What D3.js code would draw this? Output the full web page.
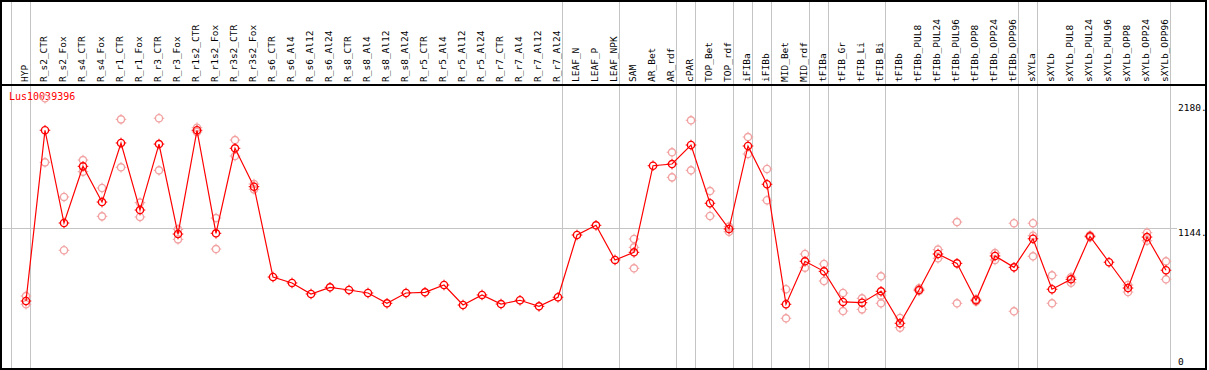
<!DOCTYPE html>
<html lang="en">
<head>
    <meta charset="UTF-8">
    <title>Lus10039396 expression</title>
    <script src="https://d3js.org/d3.v7.min.js"></script>
    <style>
        body { margin: 0; background: #fff; }
        svg { display: block; }
        text { font-family: "DejaVu Sans Mono", monospace; }
        .sep { stroke: #c4c4c4; stroke-width: 1; shape-rendering: crispEdges; }
        .frame { fill: none; stroke: #000; stroke-width: 2; shape-rendering: crispEdges; }
        .curve { fill: none; stroke: #ff0000; stroke-width: 1.2; }
    </style>
</head>
<body>
    <div id="chart"></div>

    <script>
        const samples = ["HYP","R_s2_CTR","R_s2_Fox","R_s4_CTR","R_s4_Fox","R_r1_CTR","R_r1_Fox","R_r3_CTR","R_r3_Fox",
            "R_r1s2_CTR","R_r1s2_Fox","R_r3s2_CTR","R_r3s2_Fox","R_s6_CTR","R_s6_Al4","R_s6_Al12","R_s6_Al24",
            "R_s8_CTR","R_s8_Al4","R_s8_Al12","R_s8_Al24","R_r5_CTR","R_r5_Al4","R_r5_Al12","R_r5_Al24",
            "R_r7_CTR","R_r7_Al4","R_r7_Al12","R_r7_Al24","LEAF_N","LEAF_P","LEAF_NPK","SAM","AR_Bet","AR_rdf",
            "cPAR","TOP_Bet","TOP_rdf","iFIBa","iFIBb","MID_Bet","MID_rdf","tFIBa","tFIB_Gr","tFIB_Li","tFIB_Bi",
            "tFIBb","tFIBb_PUL8","tFIBb_PUL24","tFIBb_PUL96","tFIBb_OPP8","tFIBb_OPP24","tFIBb_OPP96",
            "sXYLa","sXYLb","sXYLb_PUL8","sXYLb_PUL24","sXYLb_PUL96","sXYLb_OPP8","sXYLb_OPP24","sXYLb_OPP96"];

        // mean expression per sample
        const meanVals = [545,1955,1189,1657,1362,1850,1296,1841,1098,1955,1104,1806,1489,
            743,694,603,658,636,611,526,611,617,677,512,595,520,551,501,576,
            1090,1170,884,947,1662,1676,1833,1352,1140,1825,1509,518,873,790,537,531,625,
            361,636,933,856,551,917,823,1059,642,724,1079,865,652,1073,799];

        // individual replicates (null = none shown)
        const rep1 = [586,2219,1404,1709,1478,2045,1357,2054,1137,1976,1230,1874,1511,
            null,null,null,null,null,null,null,null,null,null,null,null,null,null,null,null,
            null,null,null,1057,null,1773,2037,1453,1159,1899,1635,642,933,851,611,567,749,
            405,650,969,1197,560,941,1187,1187,757,741,1088,null,677,1109,873];
        const rep2 = [518,1690,964,1613,1244,1649,1239,1624,1054,1941,974,1742,1467,
            null,null,null,null,null,null,null,null,null,null,null,null,null,null,null,null,
            null,null,null,988,null,1566,1624,1247,1117,1759,1377,402,820,710,462,476,589,
            325,628,898,526,542,884,460,1084,526,696,1071,null,619,1043,724];
        const rep3 = [null,null,null,null,null,null,null,null,null,null,null,null,null,
            null,null,null,null,null,null,null,null,null,null,null,null,null,null,null,null,
            null,null,null,815,null,null,null,null,null,null,null,null,null,null,null,null,526,
            null,null,null,null,null,null,null,914,null,null,null,null,null,null,null];

        const tickVals = [0, 1144, 2180];
        const tickLabels = ["0", "1144.", "2180."];
        const gridVals = [1144];
        const breakAfter = ["HYP","R_r7_Al24","LEAF_NPK","AR_rdf","cPAR","TOP_rdf","iFIBa","iFIBb",
            "MID_rdf","tFIBa","tFIB_Bi","tFIBb_OPP96","sXYLa","sXYLb_OPP96"];
        const geneName = "Lus10039396";

        const width = 1209;
        const height = 370;

        const x = d3.scaleBand().domain(samples).range([11, 1170]);
        const px = d => x(d) + 15;
        const y = d3.scaleLinear().domain([0, 2180]).range([367, 103]);

        const svg = d3.select("#chart")
            .append("svg")
            .attr("width", width)
            .attr("height", height);

        // column separators
        const seps = [x.range()[0]].concat(breakAfter.map(d => x(d) + x.bandwidth()));
        svg.selectAll(".sep")
            .data(seps)
            .enter()
            .append("line")
            .attr("class", "sep")
            .attr("x1", d => Math.round(d) + 0.5)
            .attr("x2", d => Math.round(d) + 0.5)
            .attr("y1", 0)
            .attr("y2", height);

        // horizontal reference line
        svg.selectAll(".grid")
            .data(gridVals)
            .enter()
            .append("line")
            .attr("class", "sep")
            .attr("x1", 2)
            .attr("x2", 1177)
            .attr("y1", d => Math.round(y(d)) + 0.5)
            .attr("y2", d => Math.round(y(d)) + 0.5);

        // frame and header rule
        svg.append("rect")
            .attr("class", "frame")
            .attr("x", 1).attr("y", 1)
            .attr("width", 1205).attr("height", 368);
        svg.append("line")
            .attr("x1", 0).attr("x2", 1206)
            .attr("y1", 85).attr("y2", 85)
            .attr("stroke", "#000")
            .attr("stroke-width", 2)
            .style("shape-rendering", "crispEdges");

        // sample labels, rotated
        svg.selectAll(".lab")
            .data(samples)
            .enter()
            .append("text")
            .attr("class", "lab")
            .attr("transform", d => `translate(${px(d) + 2},82) rotate(-90)`)
            .style("font-size", "9.5px")
            .attr("fill", "#000")
            .text(d => d);

        // value labels on the right
        svg.selectAll(".tick")
            .data(tickVals)
            .enter()
            .append("text")
            .attr("class", "tick")
            .attr("x", 1178)
            .attr("y", d => Math.min(y(d) + 8, 365))
            .style("font-size", "9.5px")
            .attr("fill", "#000")
            .text((d, i) => tickLabels[i]);

        // gene name
        svg.append("text")
            .attr("x", 9)
            .attr("y", 100)
            .style("font-size", "10px")
            .attr("fill", "#ff0000")
            .text(geneName);

        function marker(sel, color) {
            sel.append("circle")
                .attr("r", 3.6)
                .attr("fill", "none")
                .attr("stroke", color)
                .attr("stroke-width", 1.4);
            [[0, -3.6, 0, -5.3], [0, 3.6, 0, 5.3], [-3.6, 0, -5.3, 0], [3.6, 0, 5.3, 0]].forEach(t => {
                sel.append("line")
                    .attr("x1", t[0]).attr("y1", t[1])
                    .attr("x2", t[2]).attr("y2", t[3])
                    .attr("stroke", color)
                    .attr("stroke-width", 1);
            });
        }

        // replicate points
        const reps = [];
        [rep1, rep2, rep3].forEach(arr => {
            arr.forEach((v, i) => { if (v !== null) reps.push({ s: samples[i], v: v }); });
        });
        svg.selectAll(".rep")
            .data(reps)
            .enter()
            .append("g")
            .attr("class", "rep")
            .attr("transform", d => `translate(${px(d.s)},${y(d.v)})`)
            .each(function () { marker(d3.select(this), "#f2a2a2"); });

        // mean curve
        const pts = samples.map((s, i) => ({ s: s, v: meanVals[i] }));
        svg.append("path")
            .datum(pts)
            .attr("class", "curve")
            .attr("d", d3.line().x(d => px(d.s)).y(d => y(d.v)));

        svg.selectAll(".pt")
            .data(pts)
            .enter()
            .append("g")
            .attr("class", "pt")
            .attr("transform", d => `translate(${px(d.s)},${y(d.v)})`)
            .each(function () { marker(d3.select(this), "#ff0000"); });
    </script>
</body>
</html>
